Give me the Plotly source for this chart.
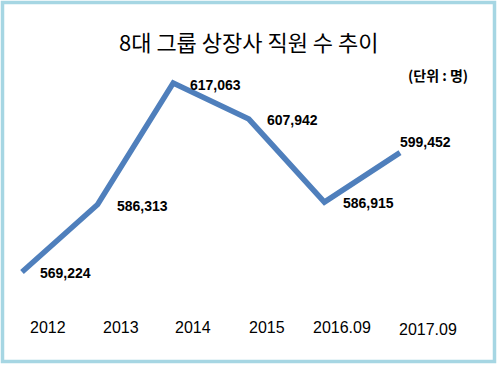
import plotly.graph_objects as go

categories = ["2012", "2013", "2014", "2015", "2016.09", "2017.09"]
employees = [569224, 586313, 617063, 607942, 586915, 599452]
value_labels = ["569,224", "586,313", "617,063", "607,942", "586,915", "599,452"]

title_text = "8대 그룹 상장사 직원 수 추이"
unit_text = "(단위 : 명)"

x_idx = list(range(len(categories)))

fig = go.Figure()
fig.add_trace(go.Scatter(
    x=x_idx, y=employees, mode="lines",
    line=dict(color="#4f7fbc", width=5.5),
    hoverinfo="skip", showlegend=False,
))

label_font = dict(family="Liberation Sans, Arial, sans-serif", size=14, color="#000000")
label_xshift = [16, 17, 15, 16, 17, -2]
label_yshift = [-1, -2, -2, -1, -1, 11]
annotations = []
for i, (lbl, v) in enumerate(zip(value_labels, employees)):
    annotations.append(dict(
        x=i, y=v, xref="x", yref="y", text="<b>%s</b>" % lbl, showarrow=False,
        xanchor="left", yanchor="middle", xshift=label_xshift[i], yshift=label_yshift[i],
        font=label_font,
    ))

cat_xshift = [26, 23, 20, 18, 18, 28]
cat_y = [0.104, 0.104, 0.104, 0.104, 0.104, 0.096]
for i, c in enumerate(categories):
    annotations.append(dict(
        x=i, y=cat_y[i], xref="x", yref="paper", text=c, showarrow=False,
        xanchor="center", yanchor="middle", xshift=cat_xshift[i],
        font=dict(family="Liberation Sans, Arial, sans-serif", size=16, color="#000000"),
    ))

annotations.append(dict(
    x=249 / 497, y=1 - 41 / 365, xref="paper", yref="paper", text=title_text,
    showarrow=False, xanchor="center", yanchor="middle",
    font=dict(family="Noto Sans CJK KR", size=22, color="#000000"),
))
annotations.append(dict(
    x=470 / 497, y=1 - 75 / 365, xref="paper", yref="paper", text="<b>%s</b>" % unit_text,
    showarrow=False, xanchor="right", yanchor="middle",
    font=dict(family="Noto Sans CJK KR", size=14, color="#000000"),
))

px_per_unit = 189 / (617063 - 569224)
y_top = 617063 + 83 / px_per_unit
y_bot = 617063 - (365 - 83) / px_per_unit
x_left = -22 / 75.6
x_right = (497 - 22) / 75.6

fig.update_layout(
    width=497, height=365,
    margin=dict(l=0, r=0, t=0, b=0),
    paper_bgcolor="#ffffff", plot_bgcolor="#ffffff",
    xaxis=dict(range=[x_left, x_right], visible=False, fixedrange=True),
    yaxis=dict(range=[y_bot, y_top], visible=False, fixedrange=True),
    annotations=annotations,
    shapes=[dict(
        type="rect", xref="paper", yref="paper",
        x0=2.5 / 497, x1=494.5 / 497, y0=1 - 361.5 / 365, y1=1 - 2.5 / 365,
        line=dict(color="#a6d6e3", width=3.5), fillcolor="rgba(0,0,0,0)",
    )],
)

fig.write_html(
    "out.html",
    config={"displayModeBar": False},
    post_script="document.body.style.margin='0px';document.body.style.overflow='hidden';",
)
